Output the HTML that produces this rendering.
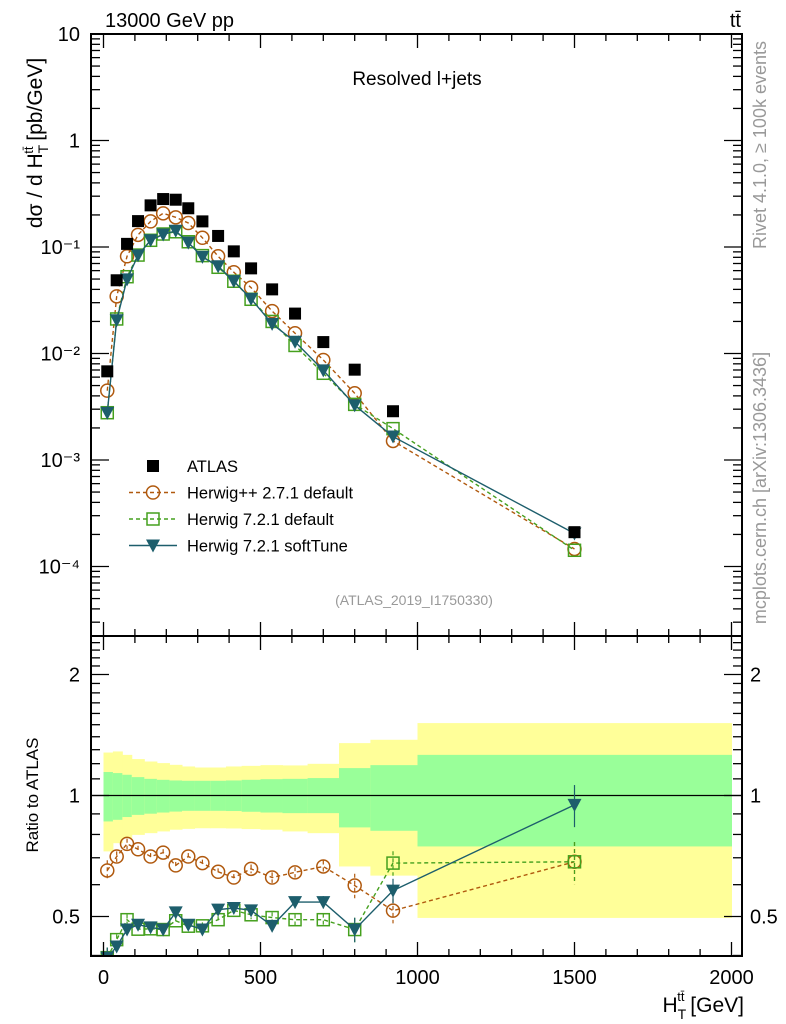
<!DOCTYPE html>
<html><head><meta charset="utf-8"><style>
body{margin:0;background:#fff;width:786px;height:1024px;overflow:hidden}
svg{display:block;font-family:"Liberation Sans",sans-serif}
</style></head><body>
<svg id="c" width="786" height="1024" viewBox="0 0 786 1024">
<text x="105" y="27" font-size="20">13000 GeV pp</text>
<text x="741" y="27" font-size="20" text-anchor="end">tt̄</text>
<text x="417" y="85" font-size="19" text-anchor="middle">Resolved l+jets</text>
<text x="414" y="605" font-size="14" fill="#999" text-anchor="middle">(ATLAS_2019_I1750330)</text>
<text transform="translate(766,145) rotate(-90)" font-size="18" fill="#999" text-anchor="middle">Rivet 4.1.0, ≥ 100k events</text>
<text transform="translate(766,488) rotate(-90)" font-size="18" fill="#999" text-anchor="middle">mcplots.cern.ch [arXiv:1306.3436]</text>
<text transform="translate(42,143) rotate(-90)" font-size="21" text-anchor="middle">dσ / d H<tspan font-size="14" dy="6">T</tspan><tspan font-size="13" dy="-15" dx="-9">tt̄</tspan><tspan dy="9"> [pb/GeV]</tspan></text>
<text transform="translate(38,795) rotate(-90)" font-size="17" text-anchor="middle">Ratio to ATLAS</text>
<text x="744" y="1012" font-size="21" text-anchor="end">H<tspan font-size="14" dy="7">T</tspan><tspan font-size="13" dy="-18" dx="-9">tt̄</tspan><tspan dy="11"> [GeV]</tspan></text>
<g id="g"></g>
</svg>
<script>
const binEdges=[0,30,60,90,130,170,210,250,290,340,390,440,500,570,650,750,850,1000,2000];
const xCenters=[12,42,75,110,150,190,230,270,315,365,415,470,537,610,700,800,922,1500];
const atlas=[0.0068,0.0487,0.107,0.175,0.246,0.282,0.278,0.231,0.174,0.127,0.091,0.063,0.040,0.0237,0.0128,0.00705,0.00287,2.1e-4];
const hwpp=[0.00448,0.0344,0.0818,0.130,0.174,0.207,0.190,0.168,0.122,0.0818,0.058,0.0415,0.025,0.0155,0.0087,0.00423,0.00151,1.46e-4];
const hw72=[0.00278,0.0211,0.0526,0.084,0.1156,0.1324,0.139,0.112,0.083,0.0645,0.0477,0.0323,0.020,0.0119,0.00652,0.00333,0.00197,1.42e-4];
const hwSoft=[0.00277,0.0205,0.0497,0.0835,0.1156,0.131,0.142,0.110,0.0807,0.066,0.0478,0.0326,0.019,0.0129,0.00695,0.00327,0.00166,2.04e-4];
const rHwpp=[0.651,0.705,0.758,0.735,0.705,0.721,0.670,0.705,0.679,0.646,0.625,0.657,0.625,0.644,0.666,0.597,0.517,0.684];
const rHw72=[0.395,0.438,0.491,0.465,0.466,0.464,0.488,0.473,0.474,0.491,0.518,0.505,0.497,0.491,0.491,0.464,0.679,0.684];
const rSoft=[0.395,0.421,0.464,0.477,0.470,0.464,0.512,0.477,0.464,0.520,0.525,0.518,0.474,0.543,0.543,0.464,0.580,0.948];
const rErr=[0.06,0.03,0.03,0.02,0.02,0.02,0.02,0.02,0.02,0.02,0.02,0.025,0.03,0.03,0.035,0.07,0.07,0.12];
const yelUp=[1.279,1.287,1.262,1.232,1.215,1.204,1.192,1.181,1.174,1.174,1.181,1.185,1.190,1.188,1.199,1.350,1.376,1.514];
const yelDn=[0.726,0.761,0.783,0.798,0.806,0.814,0.822,0.826,0.829,0.829,0.828,0.825,0.822,0.814,0.806,0.666,0.632,0.496];
const grnUp=[1.144,1.137,1.126,1.111,1.100,1.094,1.090,1.088,1.088,1.088,1.090,1.094,1.098,1.100,1.105,1.170,1.190,1.262];
const grnDn=[0.862,0.870,0.884,0.895,0.901,0.907,0.912,0.916,0.916,0.916,0.915,0.911,0.907,0.904,0.904,0.833,0.817,0.747];
const topTicks=["10","1","10⁻¹","10⁻²","10⁻³","10⁻⁴"];
const xTicks=[0,500,1000,1500,2000];
const ratioTicks=[0.5,1,2];

const NS="http://www.w3.org/2000/svg",G=document.getElementById('g');
const L=91,R=742,T1=34,B1=636,T2=636,B2=956;
const X=v=>103.5+v*0.314;
const Y1=v=>T1+(1-Math.log10(v))*106.5;
const Y2=v=>795.5-Math.log10(v)*402;
function mk(t,a,p){const e=document.createElementNS(NS,t);for(const k in a)e.setAttribute(k,a[k]);(p||G).appendChild(e);return e;}
const C1='#b0590e',C2='#45a01e',C3='#1d5e6c';
const defs=mk('defs',{});
const cp1=mk('clipPath',{id:'cp1'},defs);mk('rect',{x:L,y:T1,width:R-L,height:B1-T1},cp1);
const cp2=mk('clipPath',{id:'cp2'},defs);mk('rect',{x:L,y:T2,width:R-L,height:B2-T2},cp2);
const g1=mk('g',{'clip-path':'url(#cp1)'});


const g2=mk('g',{'clip-path':'url(#cp2)'});


for(let i=0;i<xCenters.length;i++){
 const x0=X(binEdges[i]),w=X(binEdges[i+1])-x0;
 const y=mk('rect',{x:x0,y:Y2(yelUp[i]),width:w+0.5,height:Y2(yelDn[i])-Y2(yelUp[i]),fill:'#ffff99'},g2);
 
 
 const gr=mk('rect',{x:x0,y:Y2(grnUp[i]),width:w+0.5,height:Y2(grnDn[i])-Y2(grnUp[i]),fill:'#99ff99'},g2);
 
 
}
mk('line',{x1:L,x2:R,y1:Y2(1),y2:Y2(1),stroke:'#000','stroke-width':1.3},g2);
function marker(type,x,y,col,p,name){
 let e;
 if(type==='sq')e=mk('rect',{x:x-6,y:y-6,width:12,height:12,fill:'#000'},p);
 else if(type==='circ')e=mk('circle',{cx:x,cy:y,r:6.5,fill:'none',stroke:col,'stroke-width':1.5},p);
 else if(type==='osq')e=mk('rect',{x:x-6,y:y-6,width:12,height:12,fill:'none',stroke:col,'stroke-width':1.5},p);
 else e=mk('path',{d:`M${x-7},${y-6}L${x+7},${y-6}L${x},${y+7}Z`,fill:col},p);
 
 
}
function series(vals,Yf,col,dash,type,p,name,errs){
 let d='';vals.forEach((v,i)=>{d+=(i?'L':'M')+X(xCenters[i])+','+Yf(v);});
 const pl=mk('path',{d,fill:'none',stroke:col,'stroke-width':1.4,'stroke-dasharray':dash},p);
 
 
 vals.forEach((v,i)=>{
  if(errs){mk('line',{x1:X(xCenters[i]),x2:X(xCenters[i]),y1:Yf(v*(1+errs[i])),y2:Yf(v*(1-errs[i])),stroke:col,'stroke-width':1.2,'stroke-dasharray':dash},p);}
  marker(type,X(xCenters[i]),Yf(v),col,p,name+'-point');
 });
}
series(hwpp,Y1,C1,'4,3','circ',g1,'herwigpp-271');
series(hw72,Y1,C2,'4,3','osq',g1,'herwig-721-default');
series(hwSoft,Y1,C3,'none','tri',g1,'herwig-721-softtune');
atlas.forEach((v,i)=>marker('sq',X(xCenters[i]),Y1(v),'#000',g1,'atlas-point'));
series(rHwpp,Y2,C1,'4,3','circ',g2,'ratio-herwigpp-271',rErr);
series(rHw72,Y2,C2,'4,3','osq',g2,'ratio-herwig-721-default',rErr);
series(rSoft,Y2,C3,'none','tri',g2,'ratio-herwig-721-softtune',rErr);
[[T1,B1],[T2,B2]].forEach(([t,b],k)=>{
 const f=mk('rect',{x:L,y:t,width:R-L,height:b-t,fill:'none',stroke:'#000','stroke-width':2});
 
 
 for(let v=0;v<=2000;v+=100){const maj=v%500===0,len=maj?14:7,x=X(v);
  mk('line',{x1:x,x2:x,y1:b,y2:b-len,stroke:'#000','stroke-width':1.3});
  mk('line',{x1:x,x2:x,y1:t,y2:t+len,stroke:'#000','stroke-width':1.3});}
});
xTicks.forEach(v=>{const t=mk('text',{x:X(v),y:984,'font-size':20,'text-anchor':'middle'});t.textContent=v;
 
 });
topTicks.forEach((lab,i)=>{const dec=1-i;
 const y=Y1(Math.pow(10,dec));
 mk('line',{x1:L,x2:L+18,y1:y,y2:y,stroke:'#000','stroke-width':1.3});
 mk('line',{x1:R,x2:R-18,y1:y,y2:y,stroke:'#000','stroke-width':1.3});
 const t=mk('text',{x:80,y:y+7,'font-size':20,'text-anchor':'end'});t.textContent=lab;
 
 
});
for(let d=-5;d<1;d++)for(let m=2;m<10;m++){const y=Y1(Math.pow(10,d)*m);if(y<T1||y>B1)continue;
 mk('line',{x1:L,x2:L+9,y1:y,y2:y,stroke:'#000','stroke-width':1.3});
 mk('line',{x1:R,x2:R-9,y1:y,y2:y,stroke:'#000','stroke-width':1.3});}
for(let v=0.4;v<=2.5001;v+=0.1){const y=Y2(v);if(y<T2||y>B2)continue;const maj=[0.5,1,2].some(q=>Math.abs(q-v)<1e-6);const len=maj?18:9;
 mk('line',{x1:L,x2:L+len,y1:y,y2:y,stroke:'#000','stroke-width':1.3});
 mk('line',{x1:R,x2:R-len,y1:y,y2:y,stroke:'#000','stroke-width':1.3});}
ratioTicks.forEach(v=>{const y=Y2(v);
 const t=mk('text',{x:80,y:y+7,'font-size':20,'text-anchor':'end'});t.textContent=v;
 
 
 const t2=mk('text',{x:750,y:y+7,'font-size':20});t2.textContent=v;
 
 });
const leg=[['sq','#000','none','ATLAS'],['circ',C1,'4,3','Herwig++ 2.7.1 default'],['osq',C2,'4,3','Herwig 7.2.1 default'],['tri',C3,'none','Herwig 7.2.1 softTune']];
leg.forEach((e,i)=>{const y=466+i*26.5;
 const lg=mk('g',{});
 
 
 if(i>0)mk('line',{x1:129,x2:177,y1:y,y2:y,stroke:e[1],'stroke-width':1.4,'stroke-dasharray':e[2]},lg);
 marker(e[0],153,y,e[1],lg,'legend-marker');
 const t=mk('text',{x:187,y:y+6,'font-size':16.5},lg);t.textContent=e[3];
});
</script>
</body></html>
